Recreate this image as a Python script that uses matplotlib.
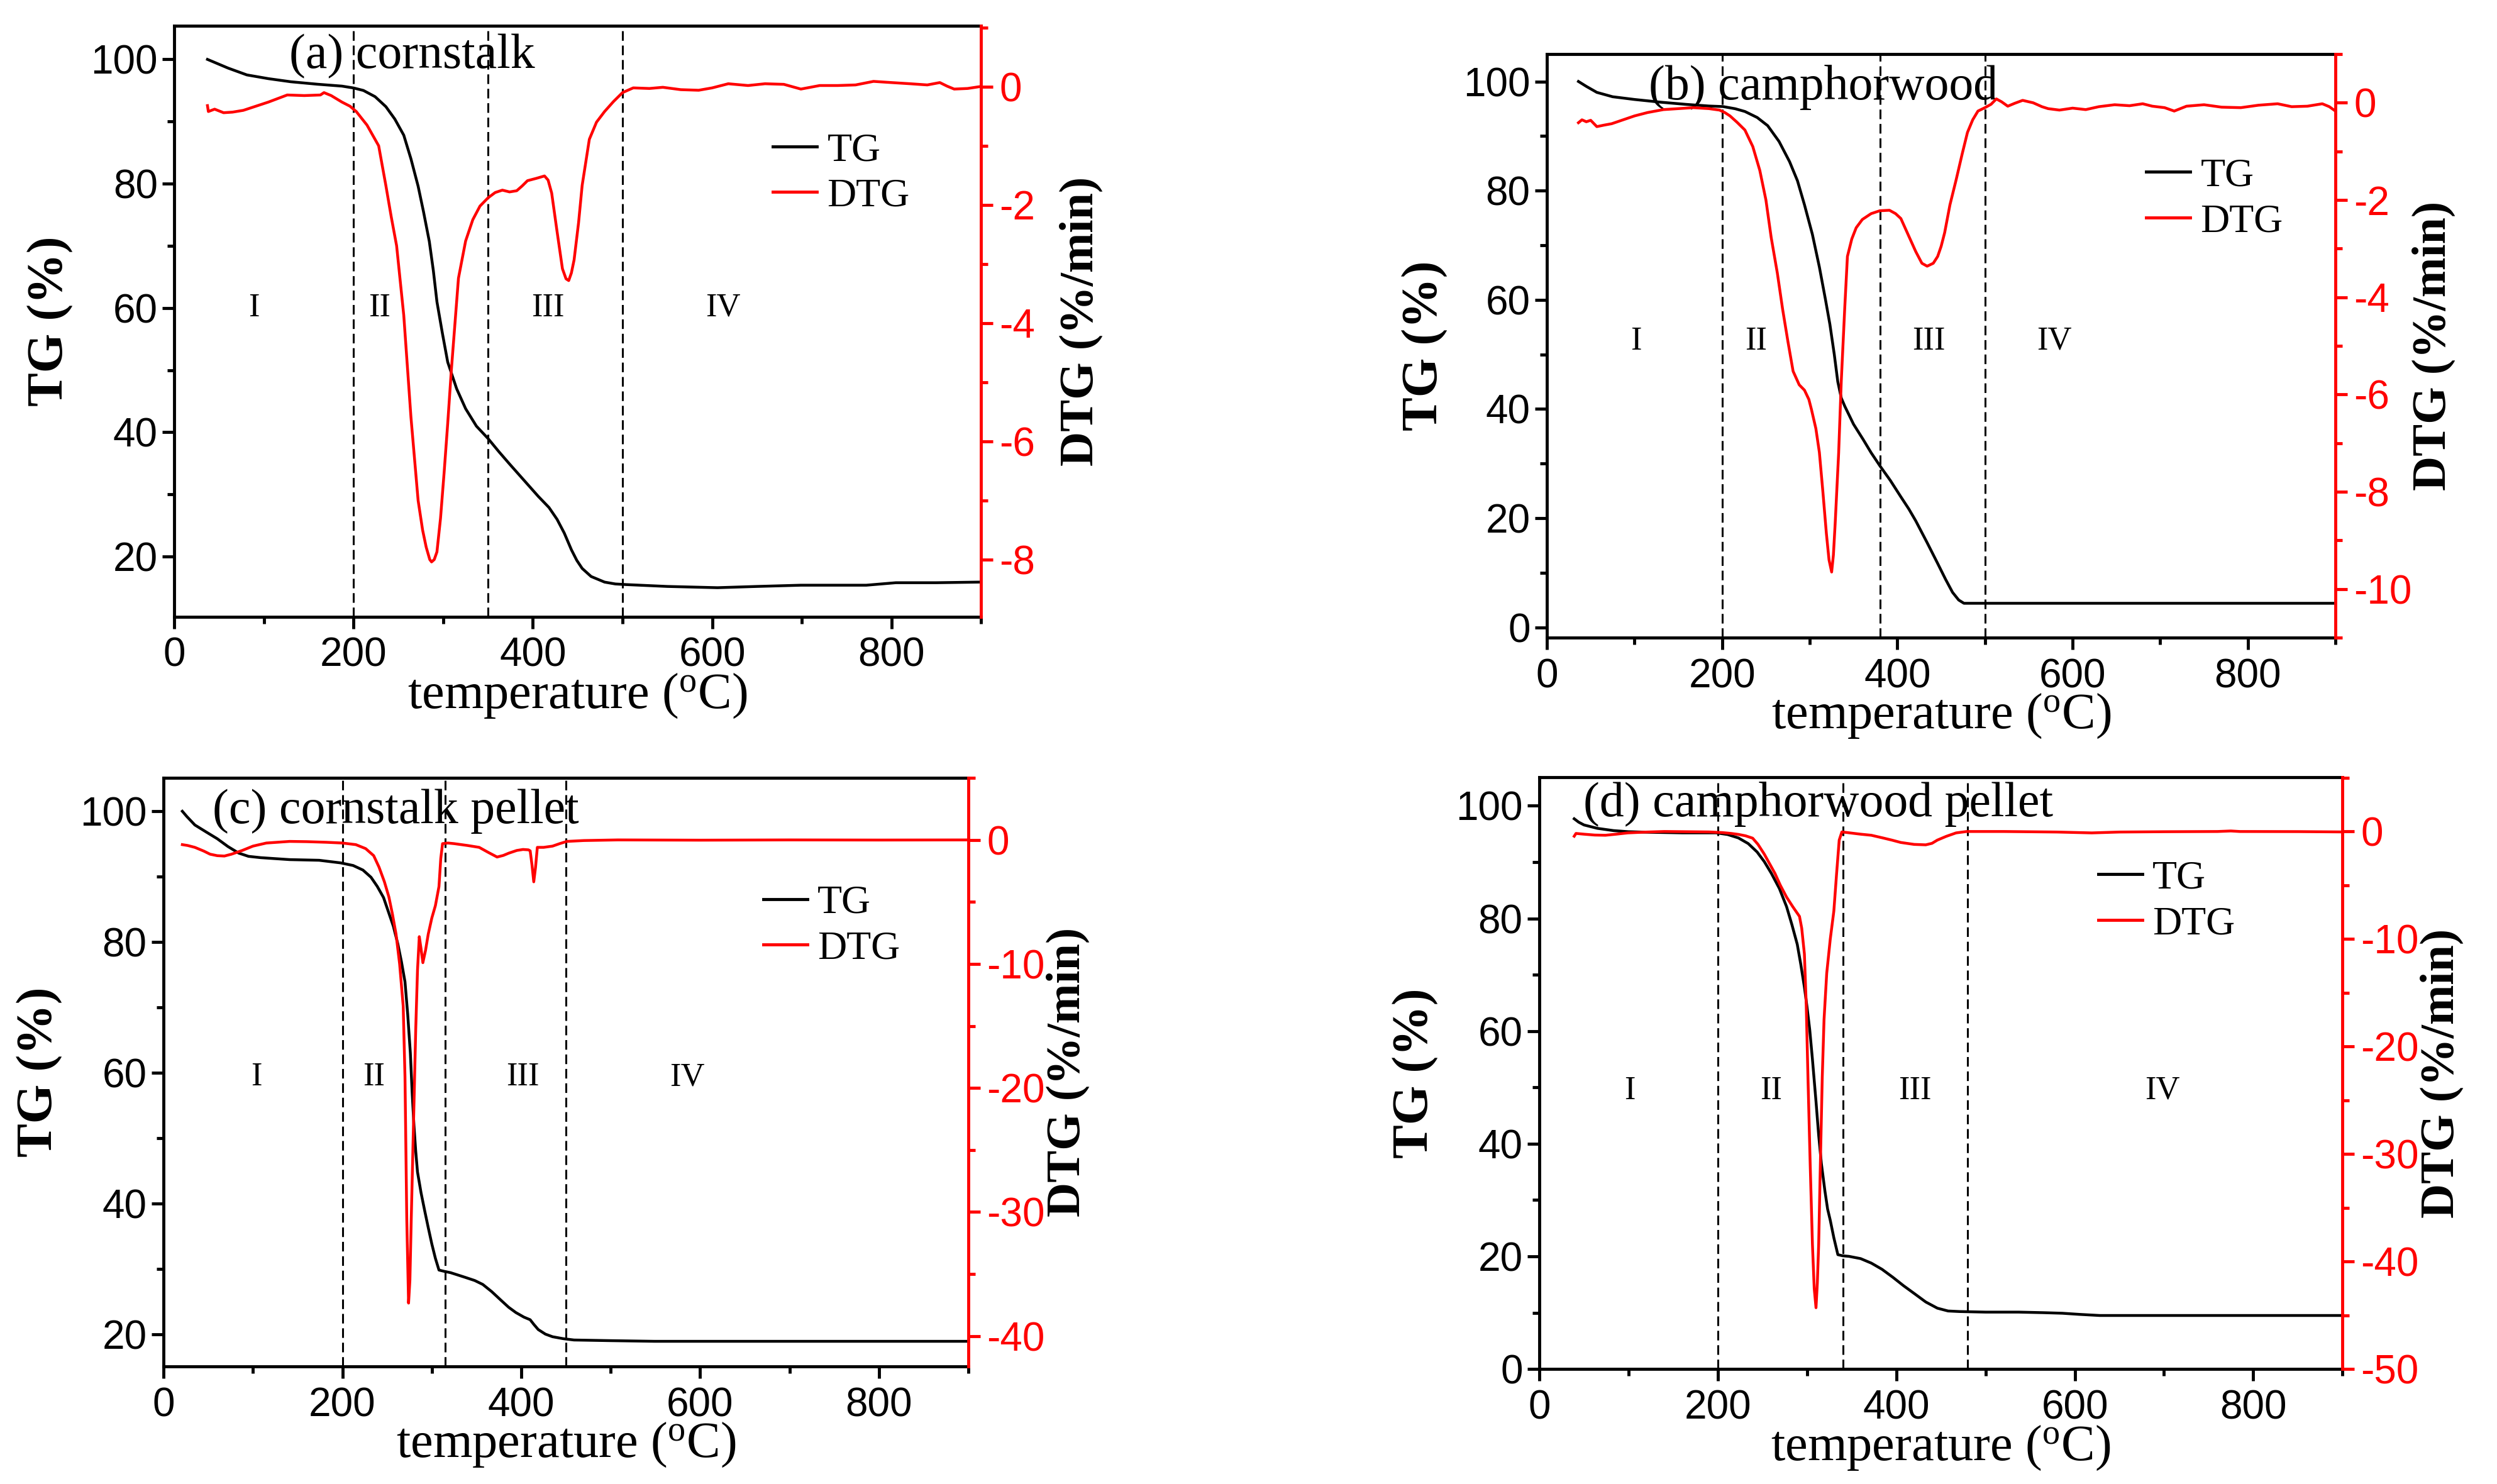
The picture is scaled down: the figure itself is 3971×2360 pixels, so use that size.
import matplotlib
matplotlib.use("Agg")
import matplotlib.pyplot as plt
from matplotlib.lines import Line2D
from matplotlib.ticker import MultipleLocator

plt.rcParams["font.family"] = ["Liberation Sans Narrow", "Liberation Sans", "DejaVu Sans"]
plt.rcParams["axes.unicode_minus"] = False
plt.rcParams["mathtext.fontset"] = "custom"
plt.rcParams["mathtext.rm"] = "Liberation Serif"

SERIF = "Liberation Serif"

# ---- data: (temperature degC, value) ----
a_tg = [(37, 100), (60, 98.6), (81, 97.5), (105, 96.9), (130, 96.4), (160, 96.0), (187, 95.7),
        (200, 95.4), (211, 95.0), (224, 94.0), (236, 92.4), (246, 90.4), (256, 87.8), (264, 84.0),
        (272, 79.6), (278, 75.5), (284.5, 70.7), (289, 66.0), (293, 61.0), (299, 56.0), (305, 51.3),
        (315, 47.0), (325, 43.8), (337, 41.0), (350, 39.0), (362, 36.9), (374, 34.9), (390, 32.3),
        (406, 29.7), (418, 27.9), (427, 26.0), (435, 23.8), (443, 21.1), (449, 19.4), (455, 18.1),
        (465, 16.8), (480, 15.9), (492, 15.6), (504, 15.5), (550, 15.2), (606, 15.0), (650, 15.2),
        (699, 15.4), (772, 15.4), (805, 15.8), (850, 15.8), (898, 15.9)]
a_dtg = [(37, -0.32), (38, -0.42), (45, -0.38), (55, -0.44), (65, -0.43), (77, -0.40), (89, -0.34),
         (105, -0.26), (126, -0.14), (145, -0.15), (163, -0.14), (167, -0.10), (175, -0.15),
         (187, -0.26), (196, -0.33), (203, -0.42), (215, -0.65), (228, -1.0), (236, -1.67),
         (242, -2.2), (248, -2.69), (256, -3.87), (264, -5.59), (272, -7.0), (277, -7.5),
         (281, -7.79), (285, -8.0), (287, -8.04), (290, -8.0), (293, -7.87), (297, -7.3),
         (301, -6.53), (305, -5.7), (309, -4.81), (317, -3.24), (325, -2.61), (333, -2.25),
         (341, -2.02), (350, -1.88), (358, -1.79), (366, -1.75), (374, -1.78), (382, -1.76),
         (388, -1.68), (394, -1.59), (404, -1.55), (413, -1.51), (417, -1.58), (421, -1.8),
         (427, -2.45), (433, -3.08), (437, -3.25), (440, -3.28), (443, -3.15), (446, -2.93),
         (451, -2.3), (455, -1.67), (463, -0.89), (471, -0.6), (480, -0.42), (490, -0.25),
         (500, -0.1), (512, -0.02), (530, -0.03), (545, -0.01), (565, -0.05), (585, -0.06),
         (600, -0.02), (618, 0.05), (640, 0.02), (659, 0.05), (680, 0.04), (699, -0.04),
         (720, 0.02), (740, 0.02), (760, 0.03), (780, 0.09), (800, 0.07), (821, 0.05),
         (840, 0.03), (854, 0.07), (862, 0.01), (870, -0.04), (885, -0.03), (898, 0.0)]

b_tg = [(36, 100), (45, 99.1), (57, 98), (75, 97.2), (100, 96.7), (130, 96.2), (159, 95.8),
        (185, 95.5), (201, 95.4), (215, 95.0), (226, 94.5), (240, 93.4), (252, 91.9), (265, 89),
        (277, 85.3), (286, 81.8), (294, 77.4), (303, 72), (311, 66), (318, 60), (323, 55.5),
        (328, 50), (332, 45), (336, 42), (340, 40.5), (350, 37.2), (361, 34.4), (370, 32),
        (380, 29.6), (392, 26.9), (404, 23.9), (413, 21.7), (421, 19.5), (434, 15.5), (446, 11.7),
        (455, 8.8), (463, 6.4), (470, 5.0), (476, 4.4), (496, 4.4), (600, 4.4), (900, 4.4)]
b_dtg = [(36, -0.41), (40, -0.35), (45, -0.39), (50, -0.36), (57, -0.49), (65, -0.46), (74, -0.43),
         (87, -0.35), (100, -0.27), (115, -0.2), (133, -0.14), (150, -0.12), (167, -0.1),
         (185, -0.12), (197, -0.15), (203, -0.2), (209, -0.27), (217, -0.4), (226, -0.56),
         (235, -0.9), (243, -1.39), (250, -2.0), (256, -2.77), (263, -3.5), (269, -4.24),
         (275, -4.9), (281, -5.52), (288, -5.8), (294, -5.91), (299, -6.1), (302, -6.31),
         (307, -6.7), (311, -7.19), (315, -8.0), (319, -8.86), (322, -9.4), (325, -9.65),
         (327, -9.3), (329, -8.66), (333, -7.2), (336, -5.72), (340, -4.2), (343, -3.16),
         (348, -2.8), (353, -2.57), (360, -2.4), (370, -2.28), (380, -2.22), (391, -2.21),
         (398, -2.28), (404, -2.38), (412, -2.7), (421, -3.06), (428, -3.3), (434, -3.36),
         (441, -3.3), (446, -3.16), (450, -2.95), (454, -2.67), (460, -2.1), (467, -1.59),
         (474, -1.05), (480, -0.61), (486, -0.35), (492, -0.17), (500, -0.1), (507, -0.03),
         (513, 0.08), (519, 0.02), (526, -0.07), (534, -0.01), (543, 0.05), (555, 0.0),
         (565, -0.08), (572, -0.12), (585, -0.15), (600, -0.11), (615, -0.14), (630, -0.08),
         (648, -0.04), (665, -0.06), (680, -0.02), (691, -0.07), (705, -0.1), (716, -0.17),
         (730, -0.07), (750, -0.04), (770, -0.09), (792, -0.1), (812, -0.05), (834, -0.02),
         (850, -0.08), (868, -0.07), (885, -0.02), (893, -0.08), (900, -0.17)]

c_tg = [(21, 100), (26, 99.2), (35, 97.9), (48, 96.8), (60, 95.8), (72, 94.6), (84, 93.6),
        (95, 93.1), (108.5, 92.9), (141, 92.6), (174, 92.5), (198, 92.1), (212, 91.7), (223, 91.0),
        (232, 89.9), (239, 88.5), (246, 86.8), (251, 84.8), (257, 82.4), (262, 79.7), (266, 77),
        (270, 73.9), (273, 69), (276, 63), (278, 57), (280, 52), (282, 48), (284, 44.8),
        (288, 41.6), (292, 38.9), (296, 36.3), (300, 33.8), (304, 31.6), (308, 29.8), (314, 29.6),
        (321, 29.4), (337, 28.7), (348, 28.2), (357, 27.6), (367, 26.5), (378, 25.1), (386, 24.1),
        (394, 23.3), (403, 22.6), (410, 22.2), (414, 21.5), (419, 20.7), (427, 20.0), (435, 19.6),
        (447, 19.3), (459, 19.1), (500, 19.0), (549, 18.9), (700, 18.9), (900, 18.9)]
c_dtg = [(21, -0.38), (27, -0.45), (35, -0.6), (45, -0.9), (52, -1.15), (60, -1.27), (68, -1.3),
         (76, -1.15), (88, -0.85), (100, -0.5), (115, -0.25), (141, -0.12), (160, -0.14),
         (182, -0.19), (200, -0.25), (215, -0.38), (226, -0.7), (235, -1.27), (241, -2.2),
         (247, -3.38), (252, -4.6), (256, -6.0), (260, -7.6), (264, -10.0), (268, -13.4),
         (270, -19.1), (272, -30.6), (274, -37.35), (275.5, -35.5), (277, -30.6), (279, -24.5),
         (282, -15.3), (284, -10.5), (286, -7.8), (288, -8.8), (290, -9.9), (293, -8.9),
         (296, -7.6), (300, -6.3), (304, -5.3), (308, -3.76), (310, -1.5), (312, -0.3),
         (318, -0.25), (325, -0.3), (340, -0.45), (353, -0.6), (363, -1.0), (373, -1.38),
         (380, -1.25), (386, -1.07), (395, -0.85), (402, -0.77), (408, -0.8), (410, -0.88),
         (412, -2.0), (414, -3.38), (416, -2.2), (418, -0.6), (425, -0.6), (435, -0.5),
         (443, -0.3), (451, -0.12), (470, -0.05), (508, 0.0), (600, -0.02), (700, 0.0),
         (800, -0.01), (900, 0.0)]

d_tg = [(39, 97.7), (44, 97.1), (50, 96.6), (65, 96.0), (83, 95.6), (100, 95.4), (124, 95.3),
        (160, 95.2), (198, 95.2), (211, 94.9), (223, 94.3), (234, 93.3), (244, 91.8), (252, 90.1),
        (260, 88), (269, 85.3), (277, 82.1), (283, 78.9), (289, 75.4), (293, 71.8), (297, 67.8),
        (300, 64.2), (303, 60.2), (306, 55), (310, 47.5), (313, 41.5), (316, 36.5), (320, 31.6),
        (323, 28.4), (326, 26.4), (330, 23.3), (334.5, 20.3), (340, 20.1), (347, 20.0),
        (360, 19.6), (372, 18.8), (384, 17.7), (396, 16.3), (408, 14.8), (421, 13.3), (433, 11.9),
        (446, 10.8), (458, 10.3), (471, 10.2), (500, 10.1), (537, 10.1), (565, 10.0), (586, 9.9),
        (605, 9.7), (628, 9.5), (700, 9.5), (900, 9.5)]
d_dtg = [(39, -0.44), (41, -0.18), (50, -0.25), (62, -0.33), (74, -0.35), (86, -0.25), (99, -0.13),
         (120, -0.05), (140, 0.0), (165, -0.02), (190, -0.04), (205, -0.1), (215, -0.18),
         (223, -0.27), (231, -0.4), (239, -0.62), (245, -1.2), (252, -2.1), (258, -3.0),
         (264, -3.9), (270, -5.0), (277, -6.1), (284, -7.0), (291.5, -7.9), (294, -9.0),
         (297, -11.4), (299, -16), (301, -22.9), (303.5, -31), (306, -38.4), (308, -42.5),
         (310, -44.3), (311.5, -42.0), (313, -38.4), (315, -30.5), (317, -22.9), (319, -17.5),
         (322, -13.2), (326, -10.0), (330, -7.4), (333, -4.0), (336, -0.8), (339, -0.04),
         (350, -0.15), (360, -0.25), (372, -0.35), (385, -0.6), (395, -0.8), (405, -1.02),
         (420, -1.2), (433, -1.24), (440, -1.1), (446, -0.8), (456, -0.45), (467, -0.13),
         (479, 0.0), (520, 0.0), (580, -0.05), (619, -0.13), (650, -0.05), (700, -0.02),
         (760, 0.0), (775, 0.05), (785, 0.0), (850, -0.01), (900, -0.04)]

titles = ["(a) cornstalk", "(b) camphorwood", "(c) cornstalk pellet", "(d) camphorwood pellet"]
stage_names = ["I", "II", "III", "IV"]
stage_bounds = [[200, 350, 500], [200, 380, 500], [200, 315, 450], [200, 340, 480]]
stage_x = [[89, 229, 417, 612], [102, 239, 436, 579], [104, 235, 402, 586], [101, 260, 421, 698]]
stage_y = [60, 52.4, 59.3, 49.4]


def draw_panel(fig, rect, tg, dtg, title, cuts, sx, sy, cfg):
    ax = fig.add_axes(rect)
    ax2 = ax.twinx()

    t1, v1 = zip(*tg)
    t2, v2 = zip(*dtg)
    ax.plot(t1, v1, color="black", lw=3.2)
    ax2.plot(t2, v2, color="red", lw=3.2)
    for c in cuts:
        ax.axvline(c, color="black", lw=2.2, ls=(0, (5, 2.5)))

    ax.set_xlim(0, 900)
    ax.set_ylim(*cfg["tg_lim"])
    ax2.set_ylim(*cfg["dtg_lim"])
    ax.xaxis.set_major_locator(MultipleLocator(200))
    ax.xaxis.set_minor_locator(MultipleLocator(100))
    ax.yaxis.set_major_locator(MultipleLocator(20))
    ax.yaxis.set_minor_locator(MultipleLocator(10))
    ax2.yaxis.set_major_locator(MultipleLocator(cfg["dtg_step"]))
    ax2.yaxis.set_minor_locator(MultipleLocator(cfg["dtg_step"] / 2))

    ax.tick_params(which="both", direction="out", width=3.5, labelsize=46, top=False, right=False)
    ax.tick_params(which="major", length=14)
    ax.tick_params(which="minor", length=8)
    ax.tick_params(axis="x", pad=9)
    ax.tick_params(axis="y", pad=5)
    ax2.tick_params(which="both", direction="out", width=3.5, labelsize=46,
                    colors="red", pad=7)
    ax2.tick_params(which="major", length=14)
    ax2.tick_params(which="minor", length=8)

    for s in ax.spines.values():
        s.set_linewidth(3.5)
    ax.spines["right"].set_visible(False)
    for name in ["left", "top", "bottom"]:
        ax2.spines[name].set_visible(False)
    ax2.spines["right"].set_color("red")
    ax2.spines["right"].set_linewidth(3.5)

    ax.set_xlabel("temperature ($\\mathregular{^o}$C)", fontsize=58, family=SERIF)
    ax.xaxis.set_label_coords(0.5, -0.093)
    ax.set_ylabel("TG (%)", fontsize=58, family=SERIF, fontweight="bold")
    ax.yaxis.set_label_coords(cfg["tg_lab"], 0.5)
    ax2.set_ylabel("DTG (%/min)", fontsize=55, family=SERIF, fontweight="bold")
    ax2.yaxis.set_label_coords(cfg["dtg_lab"], 0.5)

    for x, s in zip(sx, stage_names):
        ax.text(x, sy, s, ha="center", va="center", fontsize=38, family=SERIF)
    ax.text(cfg["title_xy"][0], cfg["title_xy"][1], title, ha="left", va="center",
            fontsize=56, family=SERIF)

    handles = [Line2D([], [], color="black", lw=3.5), Line2D([], [], color="red", lw=3.5)]
    ax2.legend(handles, ["TG", "DTG"], loc="center left", bbox_to_anchor=cfg["leg_xy"],
               frameon=False, prop={"family": SERIF, "size": 46}, handlelength=1.1,
               handletextpad=0.25, labelspacing=0.22, borderpad=0, borderaxespad=0)
    return ax, ax2


fig = plt.figure(figsize=(39.71, 23.60), dpi=100)

rects = [[0.0698, 0.5843, 0.3231, 0.3983],
         [0.6195, 0.5703, 0.3158, 0.3932],
         [0.0655, 0.0792, 0.3223, 0.3966],
         [0.6165, 0.0775, 0.3216, 0.3987]]
cfgs = [dict(tg_lim=(10.3, 105.4), dtg_lim=(-8.97, 1.03), dtg_step=2,
             title_xy=(128, 100.5), leg_xy=(0.742, 0.75), tg_lab=-0.125, dtg_lab=1.097),
        dict(tg_lim=(-1.9, 105), dtg_lim=(-11.0, 1.0), dtg_step=2,
             title_xy=(116, 98.9), leg_xy=(0.76, 0.752), tg_lab=-0.125, dtg_lab=1.097),
        dict(tg_lim=(15.05, 105.1), dtg_lim=(-42.46, 5.0), dtg_step=10,
             title_xy=(55, 100), leg_xy=(0.745, 0.748), tg_lab=-0.125, dtg_lab=1.097),
        dict(tg_lim=(0, 105.06), dtg_lim=(-50, 5.04), dtg_step=10,
             title_xy=(49.5, 100.3), leg_xy=(0.696, 0.79), tg_lab=-0.125, dtg_lab=1.097)]
series = [(a_tg, a_dtg), (b_tg, b_dtg), (c_tg, c_dtg), (d_tg, d_dtg)]

for i in range(4):
    draw_panel(fig, rects[i], series[i][0], series[i][1], titles[i], stage_bounds[i],
               stage_x[i], stage_y[i], cfgs[i])

fig.savefig("out.png", dpi=100)
